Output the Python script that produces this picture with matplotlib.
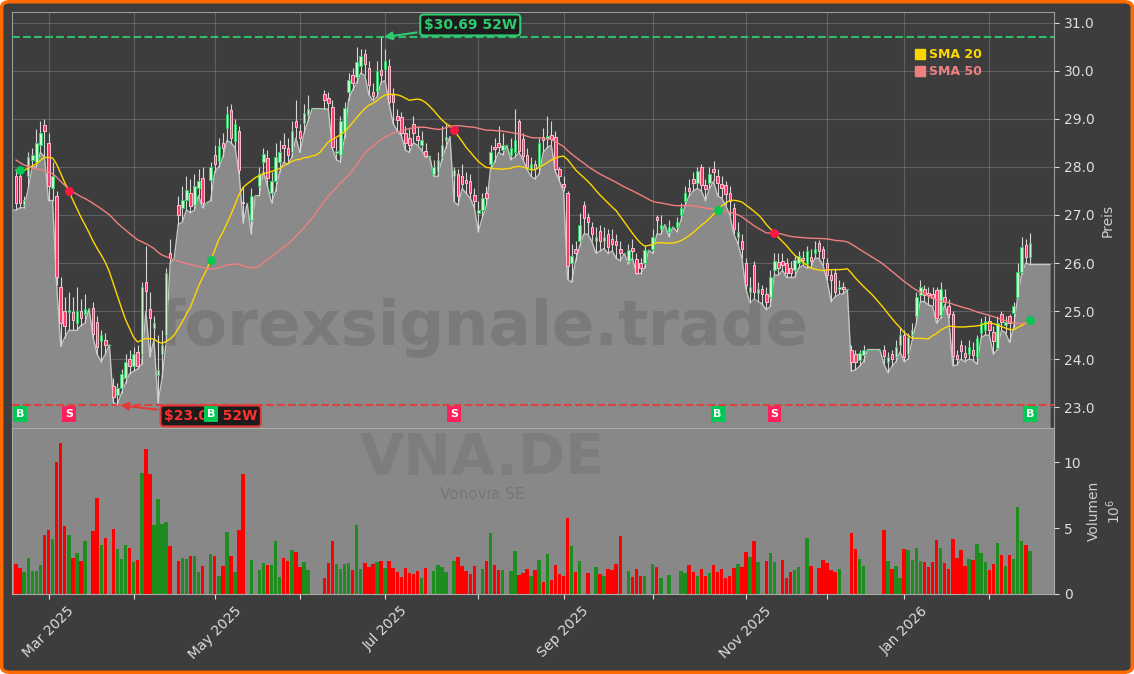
import numpy as np
import pandas as pd
import matplotlib
matplotlib.use("Agg")
import matplotlib.pyplot as plt
from matplotlib import transforms
from matplotlib.lines import Line2D
from matplotlib.patches import FancyBboxPatch
from matplotlib.ticker import FormatStrFormatter

# ================== 数据 (VNA.DE, Tageskerzen) ==================
start_date = "2025-02-19"
end_date = "2026-02-16"
xetra_holidays = ["2025-04-18", "2025-04-21", "2025-05-01", "2025-12-24",
                  "2025-12-25", "2025-12-26", "2025-12-31", "2026-01-01"]

open_px = [
    27.80, 27.80, 27.20, 27.80, 28.15, 28.10, 28.45, 28.88, 28.50, 27.55,
    27.40, 25.50, 25.00, 24.98, 24.98, 24.75, 25.00, 24.95, 25.05, 25.06,
    24.78, 24.37, 24.40, 24.30, 23.44, 23.25, 23.40, 23.60, 24.00, 23.85,
    24.15, 24.10, 25.60, 25.05, 24.65, 23.68, 24.10, 24.50, 26.20, 26.10,
    27.20, 27.15, 27.32, 27.45, 27.20, 27.55, 27.77, 27.25, 27.72, 28.25,
    28.12, 28.50, 28.80, 29.18, 28.53, 28.74, 27.27, 27.24, 26.90, 27.40,
    27.60, 28.10, 28.19, 27.45, 27.70, 28.10, 28.46, 28.40, 28.30, 28.96,
    28.75, 28.92, 29.07, 29.21, 29.21, 29.21, 29.52, 29.43, 29.24, 28.28,
    28.25, 28.75, 29.55, 29.90, 29.87, 30.10, 30.35, 30.05, 29.56, 29.58,
    30.01, 30.03, 30.10, 29.50, 29.05, 29.03, 28.70, 28.60, 28.89, 28.65,
    28.45, 28.32, 28.22, 27.85, 27.90, 28.20, 28.55, 28.63, 27.80, 27.85,
    27.80, 27.72, 27.70, 27.42, 27.05, 27.10, 27.45, 28.05, 28.42, 28.50,
    28.35, 28.45, 28.25, 28.30, 28.96, 28.58, 28.25, 27.95, 28.05, 28.00,
    28.62, 28.58, 28.67, 28.63, 27.95, 27.65, 27.46, 26.00, 26.30, 26.45,
    27.21, 26.95, 26.75, 26.45, 26.66, 26.45, 26.60, 26.50, 26.45, 26.30,
    26.20, 26.04, 26.32, 26.09, 26.00, 26.00, 26.27, 26.30, 26.95, 26.70,
    26.80, 26.65, 26.75, 26.75, 27.00, 27.30, 27.55, 27.74, 27.67, 27.99,
    27.63, 27.67, 27.95, 27.80, 27.65, 27.63, 27.45, 27.15, 26.55, 26.45,
    26.00, 25.40, 25.95, 25.38, 25.45, 25.35, 25.30, 25.85, 26.03, 26.05,
    26.00, 25.90, 25.85, 26.00, 26.10, 25.99, 26.12, 26.20, 26.41, 26.29,
    26.00, 25.75, 25.79, 25.45, 25.50, 25.45, 24.20, 24.10, 23.98, 24.08,
    24.20, 24.20, 24.20, 24.20, 24.20, 23.95, 24.10, 24.05, 24.30, 24.50,
    24.10, 24.50, 24.90, 25.34, 25.45, 25.38, 25.35, 25.43, 24.92, 25.30,
    25.10, 24.93, 24.08, 24.30, 24.12, 24.10, 24.20, 24.05, 24.55, 24.60,
    24.80, 24.57, 24.23, 24.95, 24.72, 24.89, 24.96, 25.30, 25.82, 26.38,
    26.13,
]
high_px = [
    27.95, 27.90, 27.40, 28.30, 28.40, 28.78, 28.95, 29.00, 28.70, 28.10,
    27.50, 25.70, 25.30, 25.40, 25.30, 25.50, 25.25, 25.35, 25.05, 25.20,
    24.90, 24.60, 24.55, 24.30, 23.60, 23.50, 23.80, 24.10, 24.20, 24.25,
    24.30, 25.60, 26.35, 25.40, 24.90, 24.50, 24.60, 25.90, 26.50, 26.10,
    27.40, 27.60, 27.80, 27.75, 27.85, 27.95, 28.00, 27.25, 28.10, 28.45,
    28.60, 28.70, 29.26, 29.30, 29.00, 28.85, 27.60, 27.24, 27.55, 27.40,
    28.00, 28.40, 28.35, 27.90, 28.50, 28.55, 28.70, 28.60, 28.95, 29.40,
    28.90, 29.30, 29.50, 29.21, 29.21, 29.21, 29.60, 29.55, 29.40, 28.60,
    29.05, 29.35, 29.95, 30.05, 30.50, 30.45, 30.45, 30.20, 29.75, 30.20,
    30.69, 30.45, 30.25, 29.65, 29.20, 29.15, 28.85, 28.80, 29.05, 28.85,
    28.75, 28.50, 28.22, 28.15, 28.30, 28.85, 28.90, 28.63, 28.00, 27.95,
    28.05, 27.90, 27.85, 27.55, 27.30, 27.45, 27.60, 28.45, 28.60, 28.85,
    28.70, 28.45, 28.60, 29.20, 29.00, 28.70, 28.40, 28.20, 28.15, 28.60,
    28.80, 29.05, 28.95, 28.75, 28.00, 27.80, 27.50, 26.40, 26.45, 27.05,
    27.30, 27.05, 26.85, 26.75, 26.80, 26.75, 26.70, 26.70, 26.60, 26.45,
    26.20, 26.40, 26.50, 26.20, 26.10, 26.35, 26.27, 26.70, 27.00, 27.00,
    26.80, 26.90, 26.75, 26.95, 27.25, 27.60, 27.75, 27.90, 28.00, 28.05,
    27.75, 28.00, 28.12, 27.95, 27.80, 27.70, 27.60, 27.25, 26.85, 26.60,
    26.10, 25.70, 26.05, 25.60, 25.55, 25.50, 25.85, 26.20, 26.20, 26.20,
    26.10, 26.05, 26.15, 26.25, 26.25, 26.35, 26.30, 26.45, 26.48, 26.35,
    26.10, 25.85, 25.90, 25.65, 25.60, 25.45, 24.30, 24.20, 24.20, 24.30,
    24.20, 24.20, 24.20, 24.20, 24.30, 24.15, 24.20, 24.40, 24.65, 24.60,
    24.55, 24.75, 25.40, 25.65, 25.55, 25.50, 25.50, 25.50, 25.60, 25.45,
    25.25, 25.00, 24.20, 24.40, 24.30, 24.40, 24.35, 24.50, 24.85, 24.90,
    24.90, 24.70, 24.90, 25.00, 24.90, 24.95, 25.20, 26.00, 26.55, 26.50,
    26.62,
]
low_px = [
    27.10, 27.15, 27.15, 27.55, 28.00, 28.00, 28.30, 28.20, 27.30, 27.30,
    25.55, 24.27, 24.45, 24.60, 24.60, 24.60, 24.70, 24.75, 25.05, 24.45,
    24.10, 23.95, 24.10, 24.30, 23.10, 23.05, 23.30, 23.50, 23.70, 23.75,
    23.80, 23.90, 25.00, 24.05, 24.40, 23.10, 23.60, 24.35, 26.00, 26.10,
    26.80, 26.85, 27.10, 27.05, 27.10, 27.40, 27.15, 27.25, 27.30, 27.90,
    28.00, 28.20, 28.55, 28.50, 28.40, 27.85, 26.83, 27.24, 26.60, 27.40,
    27.40, 27.90, 27.60, 27.25, 27.50, 27.90, 28.10, 28.05, 28.20, 28.60,
    28.30, 28.70, 28.95, 29.21, 29.21, 29.21, 29.20, 29.20, 28.38, 28.15,
    28.10, 28.60, 29.40, 29.60, 29.75, 29.95, 29.90, 29.50, 29.38, 29.45,
    29.75, 29.80, 29.30, 28.90, 28.75, 28.65, 28.35, 28.30, 28.50, 28.45,
    28.35, 28.20, 28.22, 27.80, 27.80, 28.15, 28.40, 28.63, 27.28, 27.20,
    27.55, 27.45, 27.35, 27.15, 26.65, 26.95, 27.20, 27.95, 28.10, 28.30,
    28.25, 28.45, 28.15, 28.20, 28.30, 28.15, 27.95, 27.80, 27.75, 27.85,
    28.30, 28.40, 28.45, 27.90, 27.70, 27.50, 25.66, 25.60, 26.05, 26.35,
    26.60, 26.60, 26.45, 26.20, 26.25, 26.30, 26.20, 26.25, 26.10, 26.05,
    26.20, 25.98, 26.10, 25.78, 25.78, 25.90, 26.27, 26.20, 26.60, 26.60,
    26.80, 26.55, 26.75, 26.65, 26.90, 27.20, 27.40, 27.50, 27.55, 27.50,
    27.30, 27.55, 27.70, 27.40, 27.35, 27.20, 27.00, 26.60, 26.40, 26.10,
    25.45, 25.17, 25.25, 25.20, 25.15, 25.03, 25.10, 25.75, 25.75, 25.85,
    25.70, 25.70, 25.70, 25.90, 25.95, 25.90, 25.90, 26.10, 26.10, 25.95,
    25.64, 25.20, 25.30, 25.35, 25.36, 25.45, 23.75, 23.78, 23.85, 23.95,
    24.20, 24.20, 24.20, 24.20, 23.90, 23.72, 23.85, 23.95, 24.15, 23.95,
    24.00, 24.40, 24.75, 25.20, 25.20, 25.13, 25.10, 24.75, 24.85, 25.13,
    24.85, 23.86, 23.88, 24.00, 23.95, 24.00, 23.98, 23.90, 24.45, 24.50,
    24.50, 24.10, 24.20, 24.60, 24.55, 24.35, 24.65, 25.30, 25.78, 26.00,
    25.97,
]
close_px = [
    27.25, 27.25, 27.32, 28.20, 28.25, 28.50, 28.70, 28.74, 27.60, 27.80,
    25.70, 24.75, 24.70, 25.02, 24.82, 25.00, 24.85, 25.05, 25.05, 24.52,
    24.26, 24.50, 24.30, 24.30, 23.22, 23.40, 23.70, 23.95, 23.85, 24.10,
    23.85, 25.50, 25.42, 24.85, 24.75, 23.78, 24.30, 25.80, 26.10, 26.10,
    27.00, 27.32, 27.52, 27.18, 27.60, 27.70, 27.25, 27.25, 28.00, 28.05,
    28.43, 28.40, 29.09, 28.60, 28.90, 27.94, 27.24, 27.24, 27.40, 27.40,
    27.85, 28.26, 27.77, 27.70, 28.20, 28.30, 28.39, 28.25, 28.75, 28.83,
    28.60, 29.12, 29.21, 29.21, 29.21, 29.21, 29.38, 29.33, 28.42, 28.33,
    28.96, 29.22, 29.80, 29.75, 30.18, 30.30, 30.14, 29.70, 29.47, 30.00,
    29.90, 30.20, 29.34, 29.34, 28.98, 28.70, 28.50, 28.45, 28.70, 28.55,
    28.55, 28.22, 28.22, 28.00, 28.15, 28.45, 28.63, 28.63, 27.93, 27.40,
    27.65, 27.66, 27.46, 27.28, 27.10, 27.35, 27.35, 28.30, 28.38, 28.42,
    28.45, 28.45, 28.40, 28.55, 28.34, 28.22, 28.00, 28.05, 27.95, 28.50,
    28.55, 28.64, 28.58, 27.95, 27.80, 27.58, 25.94, 26.14, 26.20, 26.80,
    26.94, 26.85, 26.60, 26.55, 26.45, 26.55, 26.33, 26.40, 26.38, 26.20,
    26.20, 26.27, 26.24, 25.80, 25.90, 26.27, 26.27, 26.55, 26.90, 26.80,
    26.80, 26.75, 26.75, 26.85, 27.15, 27.46, 27.50, 27.67, 27.92, 27.63,
    27.53, 27.85, 27.90, 27.67, 27.55, 27.43, 27.30, 26.70, 26.65, 26.30,
    25.55, 25.50, 25.40, 25.45, 25.35, 25.20, 25.72, 26.05, 25.90, 25.95,
    25.80, 25.80, 26.06, 26.15, 26.06, 26.25, 26.05, 26.30, 26.24, 26.10,
    25.75, 25.64, 25.40, 25.50, 25.45, 25.45, 23.95, 23.95, 24.12, 24.20,
    24.20, 24.20, 24.20, 24.20, 24.06, 24.05, 24.00, 24.25, 24.50, 24.05,
    24.46, 24.60, 25.30, 25.50, 25.34, 25.33, 25.27, 24.86, 25.47, 25.20,
    24.93, 24.07, 24.00, 24.18, 24.05, 24.25, 24.08, 24.45, 24.75, 24.80,
    24.60, 24.37, 24.75, 24.78, 24.78, 24.75, 25.10, 25.82, 26.34, 26.13,
    26.42,
]
# Volumen in Mio. Stueck (0 = kein Handel / fehlender Tag)
volume_mio = [
    2.30, 1.95, 1.70, 2.70, 1.75, 1.75, 2.20, 4.50, 4.85, 4.15,
    10.00, 11.45, 5.15, 4.45, 2.70, 3.10, 2.50, 4.00, 0, 4.80,
    7.30, 3.70, 4.25, 0, 4.90, 3.40, 2.65, 3.70, 3.50, 2.40,
    2.60, 9.15, 11.00, 9.10, 5.20, 7.20, 5.30, 5.45, 3.65, 0,
    2.50, 2.70, 2.65, 2.90, 2.90, 1.65, 2.10, 0, 3.05, 2.90,
    1.40, 2.10, 4.70, 2.90, 1.65, 4.85, 9.10, 0, 2.60, 0,
    1.80, 2.35, 2.20, 2.20, 4.00, 1.30, 2.70, 2.50, 3.35, 3.20,
    2.05, 2.40, 1.80, 0, 0, 0, 1.20, 2.35, 4.00, 2.25,
    1.90, 2.25, 2.35, 1.80, 5.20, 1.90, 2.35, 2.05, 2.25, 2.40,
    2.50, 1.95, 2.50, 1.95, 1.65, 1.30, 1.95, 1.60, 1.50, 1.75,
    1.20, 1.95, 0, 1.75, 2.20, 2.05, 1.65, 0, 2.50, 2.80,
    2.10, 1.75, 1.50, 2.10, 0, 1.90, 2.50, 4.60, 2.20, 1.80,
    1.80, 0, 1.75, 3.25, 1.45, 1.60, 1.90, 1.35, 1.80, 2.60,
    0.90, 3.05, 1.05, 2.20, 1.50, 1.35, 5.75, 3.65, 1.65, 2.50,
    0, 1.60, 0, 2.05, 1.50, 1.35, 1.90, 1.80, 2.25, 4.40,
    0, 1.75, 1.30, 1.90, 1.35, 1.35, 0, 2.25, 2.05, 1.20,
    0, 1.45, 0, 0, 1.75, 1.60, 2.20, 1.65, 1.35, 1.90,
    1.35, 1.60, 2.20, 1.65, 1.90, 1.20, 1.35, 1.95, 2.25, 2.05,
    3.20, 2.80, 4.00, 2.40, 0, 2.50, 3.10, 2.40, 0, 2.60,
    1.20, 1.65, 1.80, 2.05, 0, 4.25, 2.10, 0, 1.95, 2.60,
    2.35, 1.80, 1.65, 1.90, 0, 0, 4.60, 3.40, 2.65, 2.10,
    0, 0, 0, 0, 4.85, 2.50, 1.90, 2.10, 1.20, 3.40,
    3.35, 2.60, 3.50, 2.50, 2.40, 2.05, 2.40, 4.10, 3.50, 2.35,
    1.90, 4.15, 2.70, 3.35, 2.10, 2.65, 2.60, 3.80, 3.10, 2.40,
    1.80, 2.25, 3.85, 2.95, 2.10, 2.95, 2.65, 6.60, 4.00, 3.70,
    3.25,
]
# Schlusskurse vor dem sichtbaren Fenster (nur fuer den SMA-Anlauf)
warmup_close = [
    30.0, 29.8, 29.6, 29.9, 29.6, 29.3, 29.5, 29.6, 29.3, 29.2,
    29.2, 28.8, 28.5, 28.0, 27.6, 27.3, 27.1, 27.4, 27.2, 27.0,
    27.3, 27.5, 27.2, 27.6, 27.8, 27.5, 27.3, 27.6, 27.4, 27.2,
    27.3, 27.5, 27.2, 27.4, 27.6, 27.3, 27.5, 27.6, 28.0, 28.3,
    28.6, 28.5, 28.4, 28.7, 28.6, 28.4, 28.2, 28.3, 28.1,
]
# SMA-Kreuzungen (Index im Fenster)
buy_idx = [1, 48, 173, 250]
sell_idx = [13, 108, 187]

# ================== Aufbereitung ==================
o = np.array(open_px)
h = np.array(high_px)
l = np.array(low_px)
c = np.array(close_px)
v = np.array(volume_mio)
N = len(c)
x = np.arange(N)

dates = pd.bdate_range(start_date, end_date)
dates = dates[~dates.isin(pd.to_datetime(xetra_holidays))]

full_close = pd.Series(warmup_close + close_px)
sma20 = full_close.rolling(20).mean().values[-N:]
sma50 = full_close.rolling(50).mean().values[-N:]

up = c >= o
hi_i, lo_i = int(np.argmax(h)), int(np.argmin(l))
hi, lo = h[hi_i], l[lo_i]

# ================== Plot ==================
bg = "#3d3d3d"
txt = "#dddddd"
fig = plt.figure(figsize=(11.34, 6.74), dpi=100)
fig.patch.set_facecolor("white")
fig.add_artist(FancyBboxPatch((0.0015, 0.0025), 0.997, 0.995,
                              boxstyle="round,pad=0,rounding_size=0.008",
                              transform=fig.transFigure, facecolor=bg,
                              edgecolor="#ff6a00", linewidth=2.5, zorder=-10))

ax = fig.add_axes([0.0106, 0.365, 0.919, 0.6172])
axv = fig.add_axes([0.0106, 0.1187, 0.919, 0.2463], sharex=ax)

ax.set_facecolor(bg)
ymin, ymax = 22.57, 31.22
ax.set_xlim(-1, N + 5)
ax.set_ylim(ymin, ymax)
ax.set_axisbelow(True)
ax.grid(True, color="white", alpha=0.18, lw=0.8)

# Flaeche unter den Tiefs
x_area = np.r_[-1, x, N + 4]
low_area = np.r_[l[0], l, l[-1]]
ax.fill_between(x_area, low_area, ymin, color="#8a8a8a", lw=0, zorder=1)
ax.plot(x_area, low_area, color="#c4c4c4", lw=1.0, zorder=2)

ax.text(0.452, 0.24, "forexsignale.trade", transform=ax.transAxes, fontsize=45,
        fontweight="bold", color="#333333", alpha=0.18, ha="center", va="center", zorder=2.5)

# Kerzen
ax.vlines(x, l, h, color="#d6d6d6", lw=0.8, zorder=3)
ax.bar(x, np.abs(c - o), bottom=np.minimum(o, c), width=0.62,
       color=np.where(up, "#c8f5d0", "#ff3d6e"),
       edgecolor=np.where(up, "#33cc66", "#ffc0d0"), linewidth=0.7, zorder=4)

ax.plot(x, sma20, color="#FFD700", lw=1.0, zorder=5)
ax.plot(x, sma50, color="#F08080", lw=1.0, zorder=5)
ax.scatter(buy_idx, sma20[buy_idx], s=28, color="#00c853", zorder=6)
ax.scatter(sell_idx, sma20[sell_idx], s=28, color="#ff1744", zorder=6)

# 52W Hoch / Tief
ax.axhline(hi, color="#2ecc71", ls="--", lw=1.5, alpha=0.9, zorder=2.6)
ax.axhline(lo, color="#e53935", ls="--", lw=1.5, alpha=0.9, zorder=2.6)
ax.annotate(f"${hi:.2f} 52W", xy=(hi_i, hi), xytext=(hi_i + 22, hi + 0.26),
            color="#2ecc71", fontsize=10, fontweight="bold", ha="center", va="center",
            bbox=dict(boxstyle="round,pad=0.25", fc="#1c1c1c", ec="#2ecc71", lw=1.5),
            arrowprops=dict(arrowstyle="-|>", color="#2ecc71", lw=1.5, mutation_scale=12),
            zorder=8)
ax.annotate(f"${lo:.2f} 52W", xy=(lo_i, lo), xytext=(lo_i + 23, lo - 0.23),
            color="#ff3030", fontsize=10, fontweight="bold", ha="center", va="center",
            bbox=dict(boxstyle="round,pad=0.25", fc="#1c1c1c", ec="#e53935", lw=1.5),
            arrowprops=dict(arrowstyle="-|>", color="#e53935", lw=1.5, mutation_scale=12),
            zorder=8)

# B / S Marken
blend = transforms.blended_transform_factory(ax.transData, ax.transAxes)
for idx in buy_idx:
    ax.text(idx, 0.034, "B", transform=blend, ha="center", va="center", color="white",
            fontsize=8, fontweight="bold", zorder=9,
            bbox=dict(boxstyle="square,pad=0.25", fc="#00c853", ec="none"))
for idx in sell_idx:
    ax.text(idx, 0.034, "S", transform=blend, ha="center", va="center", color="white",
            fontsize=8, fontweight="bold", zorder=9,
            bbox=dict(boxstyle="square,pad=0.25", fc="#ff1f5a", ec="none"))

handles = [Line2D([], [], marker="s", ls="none", color="#FFD700", markersize=7),
           Line2D([], [], marker="s", ls="none", color="#F08080", markersize=7)]
ax.legend(handles, ["SMA 20", "SMA 50"], loc="upper right", bbox_to_anchor=(0.935, 0.925),
          frameon=False, labelcolor=["#FFD700", "#F08080"], prop={"weight": "bold", "size": 9},
          handletextpad=0.3, borderaxespad=0, labelspacing=0.3, handlelength=0.8)

ax.yaxis.tick_right()
ax.yaxis.set_label_position("right")
ax.set_yticks(np.arange(23, 32, 1))
ax.yaxis.set_major_formatter(FormatStrFormatter("%.1f"))
ax.set_ylabel("Preis", color="#cccccc", fontsize=10)
ax.tick_params(axis="y", colors=txt, labelsize=10)
ax.tick_params(axis="x", labelbottom=False, length=0)
for s in ax.spines.values():
    s.set_color("#9a9a9a")

# Volumen
axv.set_facecolor("#888888")
axv.bar(x, v, width=0.85, color=np.where(up, "#1e8c1e", "#ff0000"), zorder=2)
axv.set_ylim(0, 12.6)
axv.text(0.451, 0.81, "VNA.DE", transform=axv.transAxes, fontsize=41, fontweight="bold",
         color="#333333", alpha=0.13, ha="center", va="center", zorder=1)
axv.text(0.451, 0.6, "Vonovia SE", transform=axv.transAxes, fontsize=11,
         color="#333333", alpha=0.2, ha="center", va="center", zorder=1)
axv.yaxis.tick_right()
axv.yaxis.set_label_position("right")
axv.set_yticks([0, 5, 10])
axv.set_ylabel("Volumen\n$10^6$", color="#cccccc", fontsize=10)
axv.tick_params(colors=txt, labelsize=10)
for s in axv.spines.values():
    s.set_color("#aaaaaa")

month_start = [i for i in range(1, N) if dates[i].month != dates[i - 1].month]
labels = [dates[i].strftime("%b %Y") if dates[i].month % 2 == 1 else "" for i in month_start]
axv.set_xticks(month_start)
axv.set_xticklabels(labels, rotation=45, ha="center")
axv.set_xlim(-1, N + 5)

fig.savefig("out.png", dpi=100, facecolor=fig.get_facecolor())
